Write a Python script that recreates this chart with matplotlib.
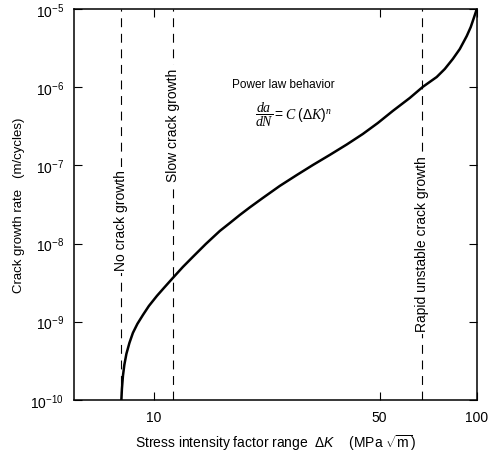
import matplotlib
matplotlib.use('Agg')
import matplotlib.pyplot as plt
from matplotlib.ticker import FixedLocator, FixedFormatter, NullLocator

plt.rcParams['font.family'] = ['Liberation Sans', 'DejaVu Sans']
plt.rcParams['mathtext.fontset'] = 'custom'
plt.rcParams['mathtext.rm'] = 'Liberation Sans'
plt.rcParams['mathtext.it'] = 'Liberation Serif:italic'
plt.rcParams['mathtext.sf'] = 'Liberation Sans:italic'
plt.rcParams['mathtext.bf'] = 'Liberation Serif:bold'

# Sigmoidal crack growth curve
delta_k = [7.93, 7.96, 8.02, 8.10, 8.22, 8.40, 8.61, 8.89, 9.25, 9.65,
           10.22, 10.74, 11.45, 12.30, 13.20, 14.49, 16.01, 17.19, 18.46,
           19.82, 21.75, 24.55, 27.72, 31.07, 35.06, 39.58, 44.37, 49.37,
           54.95, 62.02, 68.06, 75.15, 79.6, 84.31, 88.6, 93.11, 95.8,
           97.9, 99.3, 100.0]
growth_rate = [1.0e-10, 1.38e-10, 2.03e-10, 2.81e-10, 3.88e-10, 5.36e-10,
               7.19e-10, 9.38e-10, 1.22e-9, 1.59e-9, 2.14e-9, 2.70e-9,
               3.63e-9, 5.02e-9, 6.74e-9, 9.89e-9, 1.45e-8, 1.83e-8,
               2.32e-8, 2.90e-8, 3.83e-8, 5.46e-8, 7.53e-8, 1.01e-7,
               1.36e-7, 1.85e-7, 2.52e-7, 3.48e-7, 4.97e-7, 7.28e-7,
               1.01e-6, 1.35e-6, 1.71e-6, 2.30e-6, 3.08e-6, 4.52e-6,
               5.89e-6, 7.67e-6, 9.15e-6, 1.0e-5]

# Regime boundaries (dashed lines) and their labels
boundary_k = [7.93, 11.45, 67.5]
boundary_labels = ['No crack growth', 'Slow crack growth', 'Rapid unstable crack growth']
label_y = [2.0e-8, 3.3e-7, 1.0e-8]

x_ticks = [10, 50, 100]
y_ticks = [1e-10, 1e-9, 1e-8, 1e-7, 1e-6, 1e-5]

fig = plt.figure(figsize=(4.89, 4.56), dpi=100)
ax = fig.add_axes([0.151, 0.121, 0.824, 0.857])
ax.set_xscale('log')
ax.set_yscale('log')
ax.set_xlim(5.65, 100)
ax.set_ylim(1e-10, 1e-5)

for k, lab, ly in zip(boundary_k, boundary_labels, label_y):
    ax.axvline(k, color='black', lw=0.8, ls=(0, (8, 6)), zorder=1)
    ax.text(k, ly, lab, rotation=90, ha='center', va='center', fontsize=10,
            bbox=dict(facecolor='white', edgecolor='none', pad=2), zorder=2)

ax.plot(delta_k, growth_rate, color='black', lw=1.8, zorder=3)

ax.text(25.1, 1.1e-6, 'Power law behavior', ha='center', va='center', fontsize=8.5)
ax.text(27.0, 4.5e-7, r'$\dfrac{da}{dN} = C\ (\Delta K)^n$', ha='center', va='center',
        fontsize=10)

ax.xaxis.set_major_locator(FixedLocator(x_ticks))
ax.xaxis.set_major_formatter(FixedFormatter([str(t) for t in x_ticks]))
ax.xaxis.set_minor_locator(NullLocator())
ax.yaxis.set_major_locator(FixedLocator(y_ticks))
ax.yaxis.set_minor_locator(NullLocator())
ax.tick_params(direction='in', length=6, width=0.8, top=True, right=True,
               labelsize=10, pad=7)

ax.set_xlabel(r'Stress intensity factor range  $\Delta\mathsf{K}$    (MPa $\sqrt{\mathrm{m}}$)',
              fontsize=10, labelpad=6)
ax.set_ylabel('Crack growth rate   (m/cycles)', fontsize=9.5, labelpad=4)

for s in ax.spines.values():
    s.set_linewidth(1.1)

fig.savefig('out.png', dpi=100)
plt.close(fig)
